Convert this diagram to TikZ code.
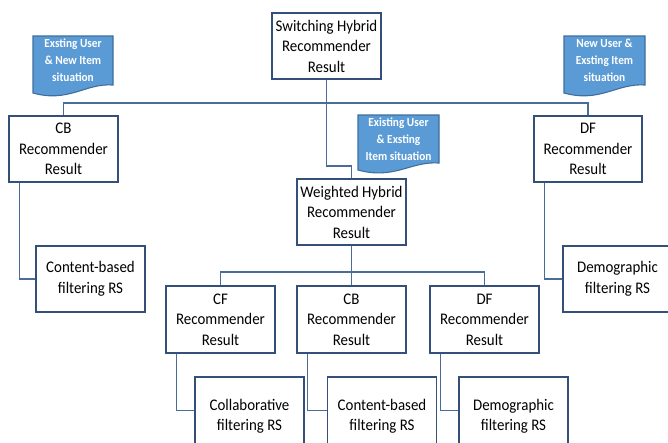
\documentclass[tikz,border=0pt]{standalone}
\usepackage{fontspec}
\setmainfont{Carlito}[FakeStretch=0.92]
\usetikzlibrary{calc}
\definecolor{boxline}{HTML}{34507A}
\definecolor{conn}{HTML}{4A6D98}
\definecolor{callfill}{HTML}{5B9BD5}
\definecolor{callline}{HTML}{3F6E9C}
\begin{document}
\begin{tikzpicture}[x=1pt,y=-1pt,
  rbox/.style={draw=boxline,line width=1.2pt,fill=white,minimum width=109pt,minimum height=66pt,
    align=center,inner sep=0pt,font=\fontsize{16.2}{20.5}\selectfont,text=black},
  conline/.style={draw=conn,line width=1.3pt},
  calltext/.style={align=center,text=white,font=\fontsize{12.3}{17}\selectfont\bfseries,inner sep=0pt}]
\useasboundingbox (0,0) rectangle (668,442);
\clip (0,0) rectangle (668,442);
% callout shapes
\newcommand{\callshape}[5]{% x0 y0 x1 ybotleft ybotright
  \filldraw[fill=callfill,draw=callline,line width=1.1pt]
    (#1,#2) -- (#3,#2) -- (#3,#5)
    .. controls ($(#3,#5)+(-0.35*#3+0.35*#1,-2)$) and ($(#1,#4)+(0.45*#3-0.45*#1,10)$) .. (#1,#4) -- cycle;}
\callshape{33}{36}{113}{93}{85}
\callshape{564}{36}{645}{93}{85}
\callshape{358}{115}{439}{170}{163}
\node[calltext] (c1) at (73,60) {Exsting User\\\& New Item\\situation};
\node[calltext] (c2) at (604.5,60) {New User \&\\Exsting Item\\situation};
\node[calltext] (c3) at (398.5,139) {Existing User\\\& Exsting\\Item situation};
% boxes
\node[rbox] (sw) at (326.5,46) {Switching Hybrid\\Recommender\\Result};
\node[rbox] (cbL) at (63.5,149) {CB\\Recommender\\Result};
\node[rbox,minimum width=108pt] (dfR) at (588,149) {DF\\Recommender\\Result};
\node[rbox] (wh) at (351.5,212) {Weighted Hybrid\\Recommender\\Result};
\node[rbox] (cbfL) at (90.5,279) {Content-based\\filtering RS};
\node[rbox] (dmR) at (617.5,279) {Demographic\\filtering RS};
\node[rbox,minimum height=67pt] (cf) at (220.5,319.5) {CF\\Recommender\\Result};
\node[rbox,minimum height=67pt] (cbM) at (351.5,319.5) {CB\\Recommender\\Result};
\node[rbox,minimum height=67pt] (dfM) at (484.5,319.5) {DF\\Recommender\\Result};
\node[rbox,minimum height=79pt] (colab) at (249.5,416.5) {Collaborative\\filtering RS};
\node[rbox,minimum height=79pt] (cbfM) at (382,416.5) {Content-based\\filtering RS};
\node[rbox,minimum height=79pt] (dmM) at (513.5,416.5) {Demographic\\filtering RS};
% connectors
\coordinate (b1) at (326.5,103);
\coordinate (k1) at (326.5,166);
\coordinate (b2) at (351.5,272);
\draw[conline] (cbL.north) |- (b1) -| (dfR.north);
\draw[conline] (sw.south) -- (k1) -| (wh.north);
\draw[conline] (cf.north) |- (b2) -| (dfM.north);
\draw[conline] (wh.south) -- (cbM.north);
\draw[conline] ([xshift=11pt]cbL.south west) |- (cbfL.west);
\draw[conline] ([xshift=11pt]dfR.south west) |- (dmR.west);
\draw[conline] ([xshift=11pt]cf.south west) |- ($(colab.west)+(0,-6)$);
\draw[conline] ([xshift=11pt]cbM.south west) |- ($(cbfM.west)+(0,-6)$);
\draw[conline] ([xshift=11pt]dfM.south west) |- ($(dmM.west)+(0,-6)$);
\end{tikzpicture}
\end{document}
